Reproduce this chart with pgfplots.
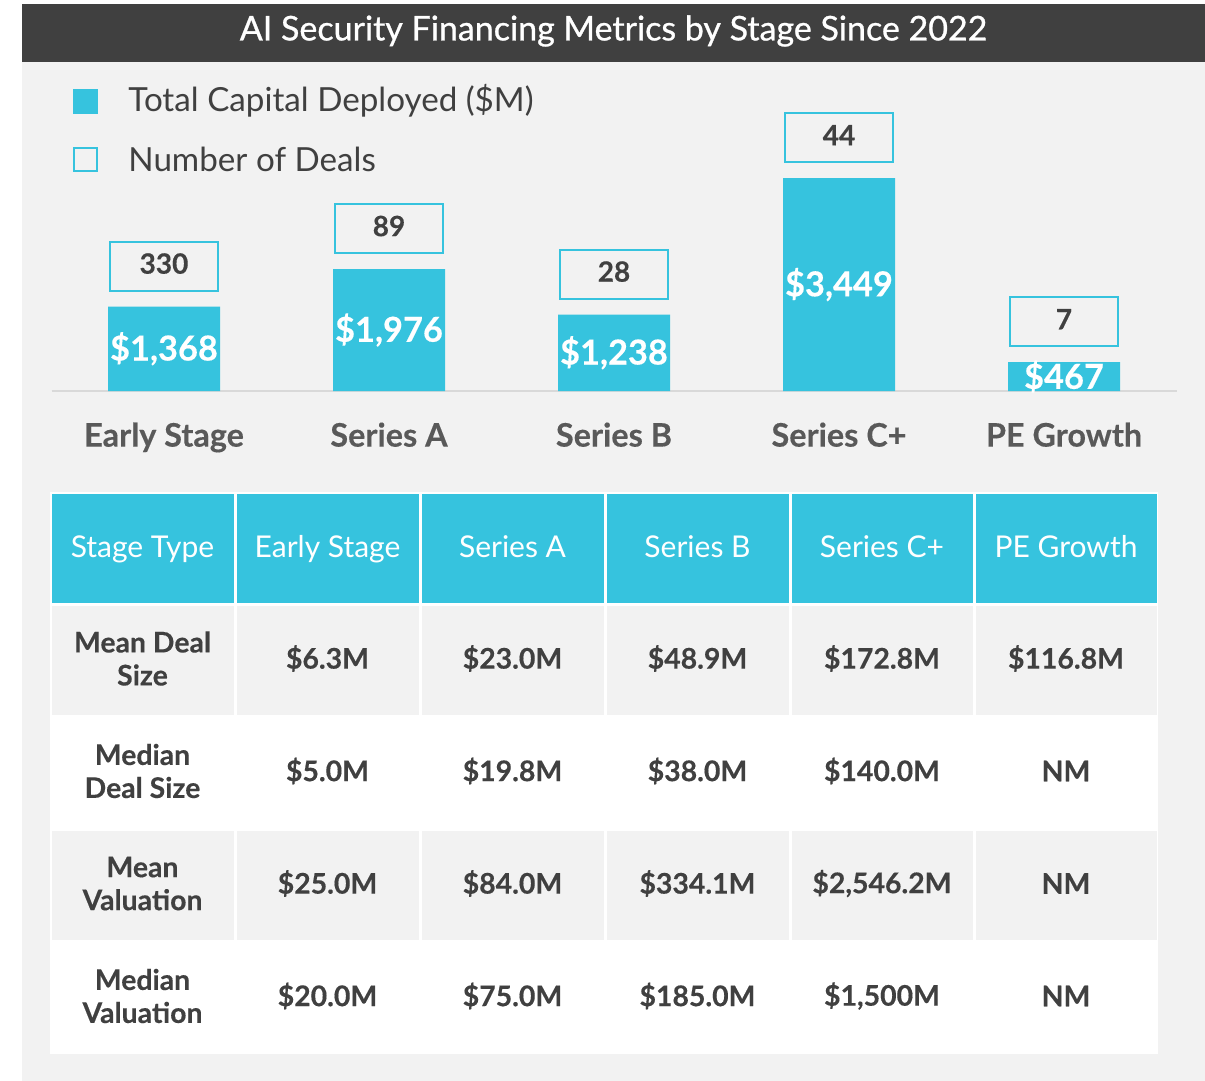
\documentclass[border=0pt]{standalone}
\usepackage{pgfplots}
\usepackage{pgfplotstable}
\pgfplotsset{compat=1.18}
\usepackage{fontspec}
\setmainfont{Lato}[BoldFeatures={FakeBold=0.3}]
\newfontfamily\titlefont[FakeBold=0.8]{Lato}
\definecolor{cy}{HTML}{36C3DE}
\definecolor{panel}{HTML}{F2F2F2}
\definecolor{titlebg}{HTML}{404040}
\definecolor{dark}{HTML}{404040}
\definecolor{catgray}{HTML}{595959}
\definecolor{axisgray}{HTML}{D9D9D9}

\pgfplotstableread{
idx cap deals
0 1368 330
1 1976 89
2 1238 28
3 3449 44
4 467 7
}\datatable

\tikzset{
  hdr/.style={text=white, font=\fontsize{15}{18}\selectfont, inner sep=0pt, anchor=base},
  cell/.style={text=dark, font=\fontsize{14.2}{16.5}\selectfont\bfseries, align=center, inner sep=0pt},
}
\newcommand\trow[9]{%
  \foreach \xa/\xb in {50/235,235/420,420/605,605/790,790/974,974/1158}{%
    \fill[#3] (\xa+1.5,#1+1.5) rectangle (\xb-1.5,#2-1.5);}
  \node[cell] at (142.5,{(#1+#2)/2-1.5}) {#4};
  \node[cell] at (327.5,{(#1+#2)/2-1.5}) {#5};
  \node[cell] at (512.5,{(#1+#2)/2-1.5}) {#6};
  \node[cell] at (697.5,{(#1+#2)/2-1.5}) {#7};
  \node[cell] at (882,{(#1+#2)/2-1.5}) {#8};
  \node[cell] at (1066,{(#1+#2)/2-1.5}) {#9};
}

\begin{document}
\begin{tikzpicture}[x=0.5pt,y=-0.5pt]
% background
\fill[white] (0,0) rectangle (1205,1081);
\fill[panel] (22,62) rectangle (1205,1081);
\fill[titlebg] (22,4) rectangle (1205,62);
\node[text=white, font=\titlefont\fontsize{17}{20}\selectfont] at (613.5,31) {AI Security Financing Metrics by Stage Since 2022};

% legend
\fill[cy] (73,89) rectangle (98,114);
\draw[cy, line width=1pt] (74,148) rectangle (97,171);
\node[anchor=west, inner sep=0pt, text=dark, font=\fontsize{16.6}{20}\selectfont] at (128,101) {Total Capital Deployed (\$M)};
\node[anchor=west, inner sep=0pt, text=dark, font=\fontsize{16.6}{20}\selectfont] at (128,159) {Number of Deals};

% bar chart
\begin{axis}[
  at={(25.75pt,-195.5pt)}, anchor=south west,
  x=112.5pt, y=0.03085pt,
  xmin=-0.5, xmax=4.5, ymin=0, ymax=4500,
  clip=false,
  axis x line*=bottom, axis y line=none,
  x axis line style={draw=axisgray, line width=1pt, -},
  xtick={0,1,2,3,4},
  xticklabels={Early Stage, Series A, Series B, Series C+, PE Growth},
  major tick length=0pt,
  xticklabel style={anchor=base, yshift=-27.8pt, text=catgray, font=\fontsize{16.2}{19}\selectfont\bfseries},
  ybar, bar width=56pt,
]
\addplot[ybar, bar shift=0pt, fill=cy, draw=none,
  point meta=y,
  visualization depends on={rawy \as \rawy},
  nodes near coords={\$\pgfmathprintnumber[fixed,precision=0,1000 sep={,},assume math mode=true]{\pgfplotspointmeta}},
  every node near coord/.append style={anchor=center, shift={(axis direction cs:0,-0.5*\rawy)}, text=white, inner sep=0pt, font=\fontsize{17.2}{20}\selectfont\bfseries}
] table[x=idx, y=cap] \datatable;
\addplot[ybar, bar shift=0pt, fill=none, draw=none,
  point meta=explicit symbolic,
  nodes near coords,
  every node near coord/.append style={anchor=south, yshift=7.5pt, draw=cy, line width=1pt, minimum width=54pt, minimum height=24.5pt, inner sep=0pt, text height=9.8pt, text depth=2.2pt, text=dark, font=\fontsize{14}{16}\selectfont\bfseries}
] table[x=idx, y=cap, meta=deals] \datatable;
\end{axis}

% table
\fill[white] (50,492) rectangle (1158,1054);
\foreach \xa/\xb/\t in {50/235/Stage Type,235/420/Early Stage,420/605/Series A,605/790/Series B,790/974/Series C+,974/1158/PE Growth}{
  \fill[cy] (\xa+1.5,493.5) rectangle (\xb-1.5,602.5);
  \node[hdr] at ({(\xa+\xb)/2},557.5) {\t};
}
\trow{604}{716}{panel}{Mean Deal\\Size}{\$6.3M}{\$23.0M}{\$48.9M}{\$172.8M}{\$116.8M}
\trow{716}{829}{white}{Median\\Deal Size}{\$5.0M}{\$19.8M}{\$38.0M}{\$140.0M}{NM}
\trow{829}{941}{panel}{Mean\\Valuation}{\$25.0M}{\$84.0M}{\$334.1M}{\$2,546.2M}{NM}
\trow{941}{1054}{white}{Median\\Valuation}{\$20.0M}{\$75.0M}{\$185.0M}{\$1,500M}{NM}
\end{tikzpicture}
\end{document}
